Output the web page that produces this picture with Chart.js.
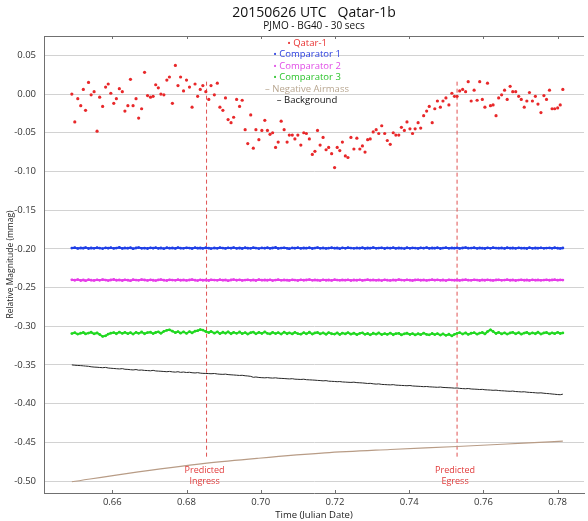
<!DOCTYPE html>
<html>
<head>
<meta charset="utf-8">
<script src="https://cdn.jsdelivr.net/npm/chart.js@4.4.0/dist/chart.umd.min.js"></script>
<style>
  html, body { margin: 0; padding: 0; background: #fff; }
</style>
</head>
<body>
<canvas id="lc" width="588" height="521"></canvas>
<script>
// ===== DATA =====
const TIMES = [
  0.6491,0.6499,0.6507,0.6515,0.6522,0.6528,0.6536,0.6543,0.6551,0.6559,
  0.6566,0.6574,0.6582,0.6589,0.6596,0.6604,0.6611,0.6619,0.6627,0.6634,
  0.6642,0.6649,0.6656,0.6664,0.6671,0.6679,0.6687,0.6695,0.6703,0.6710,
  0.6717,0.6724,0.6731,0.6739,0.6747,0.6754,0.6762,0.6770,0.6777,0.6784,
  0.6792,0.6800,0.6808,0.6815,0.6823,0.6830,0.6837,0.6844,0.6852,0.6860,
  0.6866,0.6875,0.6883,0.6890,0.6898,0.6905,0.6912,0.6920,0.6927,0.6935,
  0.6943,0.6950,0.6958,0.6965,0.6973,0.6980,0.6987,0.6995,0.7003,0.7011,
  0.7018,0.7025,0.7032,0.7040,0.7047,0.7055,0.7063,0.7071,0.7077,0.7085,
  0.7092,0.7100,0.7108,0.7116,0.7123,0.7131,0.7139,0.7146,0.7153,0.7160,
  0.7168,0.7176,0.7183,0.7191,0.7199,0.7206,0.7213,0.7220,0.7228,0.7235,
  0.7243,0.7251,0.7259,0.7267,0.7274,0.7281,0.7288,0.7295,0.7303,0.7311,
  0.7318,0.7326,0.7334,0.7341,0.7349,0.7357,0.7364,0.7372,0.7379,0.7387,
  0.7394,0.7402,0.7409,0.7416,0.7424,0.7431,0.7439,0.7447,0.7454,0.7462,
  0.7469,0.7476,0.7484,0.7491,0.7499,0.7507,0.7515,0.7522,0.7529,0.7536,
  0.7544,0.7552,0.7559,0.7567,0.7575,0.7583,0.7590,0.7597,0.7604,0.7611,
  0.7619,0.7626,0.7634,0.7641,0.7649,0.7657,0.7664,0.7672,0.7679,0.7687,
  0.7695,0.7702,0.7710,0.7717,0.7724,0.7732,0.7740,0.7747,0.7755,0.7763,
  0.7770,0.7778,0.7785,0.7792,0.7800,0.7807,0.7814
];
const QATAR = [
  0.000,-0.036,-0.006,-0.015,0.006,-0.021,0.015,-0.001,0.003,-0.048,
  -0.004,-0.016,0.009,0.013,0.001,-0.012,-0.006,0.007,0.003,-0.022,
  -0.015,0.019,-0.015,-0.006,-0.031,-0.019,0.028,-0.002,-0.004,-0.003,
  0.012,0.008,0.000,-0.001,0.018,0.022,-0.012,0.037,0.011,0.022,
  0.004,0.018,0.009,-0.017,0.013,-0.003,0.006,0.011,0.003,-0.007,
  0.011,-0.001,0.014,-0.017,-0.021,-0.005,-0.033,-0.037,-0.030,-0.007,
  -0.016,-0.008,-0.046,-0.064,-0.027,-0.070,-0.046,-0.059,-0.047,-0.034,
  -0.047,-0.052,-0.050,-0.069,-0.062,-0.035,-0.046,-0.062,-0.053,-0.053,
  -0.058,-0.053,-0.066,-0.050,-0.051,-0.058,-0.078,-0.074,-0.047,-0.066,
  -0.056,-0.072,-0.069,-0.077,-0.095,-0.069,-0.073,-0.062,-0.080,-0.082,
  -0.056,-0.071,-0.057,-0.071,-0.067,-0.075,-0.059,-0.058,-0.049,-0.046,
  -0.051,-0.041,-0.051,-0.060,-0.065,-0.050,-0.053,-0.053,-0.043,-0.047,
  -0.036,-0.045,-0.051,-0.045,-0.037,-0.044,-0.028,-0.022,-0.016,-0.037,
  -0.019,-0.009,-0.017,-0.009,-0.005,-0.014,0.001,-0.003,-0.003,0.004,
  0.006,0.003,0.016,-0.009,0.005,-0.008,0.016,-0.007,-0.017,0.014,
  -0.015,-0.014,-0.028,-0.005,-0.001,0.005,-0.007,0.010,0.003,0.003,
  -0.003,-0.007,-0.017,-0.009,0.002,-0.009,-0.003,-0.013,-0.024,-0.002,
  -0.007,0.005,-0.019,-0.019,-0.018,-0.014,0.006
];
const COMP1 = [
  -0.1990,-0.1985,-0.1995,-0.1988,-0.1992,-0.1984,-0.1996,-0.1989,-0.1993,-0.1986,
  -0.1991,-0.1997,-0.1987,-0.1992,-0.1985,-0.1994,-0.1990,-0.1983,-0.1995,-0.1988,
  -0.1992,-0.1986,-0.1998,-0.1989,-0.1984,-0.1993,-0.1990,-0.1996,-0.1987,-0.1991,
  -0.1985,-0.1994,-0.1989,-0.1997,-0.1986,-0.1992,-0.1988,-0.1995,-0.1984,-0.1991,
  -0.1993,-0.1987,-0.1990,-0.1996,-0.1985,-0.1992,-0.1989,-0.1994,-0.1986,-0.1991,
  -0.1997,-0.1988,-0.1993,-0.1985,-0.1990,-0.1995,-0.1987,-0.1992,-0.1984,-0.1994,
  -0.1989,-0.1996,-0.1986,-0.1991,-0.1993,-0.1985,-0.1990,-0.1997,-0.1988,-0.1992,
  -0.1986,-0.1994,-0.1989,-0.1983,-0.1995,-0.1990,-0.1987,-0.1993,-0.1998,-0.1988,
  -0.1991,-0.1985,-0.1994,-0.1989,-0.1992,-0.1986,-0.1996,-0.1990,-0.1984,-0.1993,
  -0.1988,-0.1995,-0.1991,-0.1986,-0.1992,-0.1989,-0.1997,-0.1987,-0.1993,-0.1985,
  -0.1990,-0.1994,-0.1988,-0.1992,-0.1986,-0.1995,-0.1989,-0.1991,-0.1984,-0.1993,
  -0.1990,-0.1987,-0.1996,-0.1988,-0.1992,-0.1985,-0.1994,-0.1989,-0.1991,-0.1997,
  -0.1986,-0.1993,-0.1988,-0.1990,-0.1995,-0.1987,-0.1992,-0.1984,-0.1994,-0.1989,
  -0.1991,-0.1986,-0.1996,-0.1990,-0.1985,-0.1993,-0.1988,-0.1992,-0.1987,-0.1995,
  -0.1989,-0.1984,-0.1992,-0.1990,-0.1986,-0.1994,-0.1988,-0.1991,-0.1996,-0.1987,
  -0.1993,-0.1985,-0.1990,-0.1992,-0.1988,-0.1995,-0.1986,-0.1991,-0.1989,-0.1994,
  -0.1987,-0.1992,-0.1990,-0.1996,-0.1985,-0.1993,-0.1989,-0.1991,-0.1987,-0.1994,
  -0.1990,-0.1988,-0.1993,-0.1986,-0.1992,-0.1995,-0.1989
];
const COMP2 = [
  -0.2400,-0.2406,-0.2397,-0.2409,-0.2402,-0.2411,-0.2399,-0.2405,-0.2408,-0.2401,
  -0.2407,-0.2398,-0.2404,-0.2410,-0.2403,-0.2396,-0.2406,-0.2402,-0.2409,-0.2400,
  -0.2405,-0.2411,-0.2399,-0.2404,-0.2407,-0.2398,-0.2403,-0.2408,-0.2401,-0.2406,
  -0.2410,-0.2402,-0.2397,-0.2405,-0.2409,-0.2400,-0.2404,-0.2407,-0.2399,-0.2406,
  -0.2402,-0.2408,-0.2403,-0.2398,-0.2405,-0.2410,-0.2401,-0.2406,-0.2403,-0.2409,
  -0.2400,-0.2404,-0.2407,-0.2399,-0.2405,-0.2402,-0.2411,-0.2403,-0.2397,-0.2406,
  -0.2401,-0.2408,-0.2404,-0.2400,-0.2407,-0.2402,-0.2409,-0.2398,-0.2405,-0.2403,
  -0.2406,-0.2400,-0.2410,-0.2404,-0.2399,-0.2407,-0.2402,-0.2405,-0.2408,-0.2401,
  -0.2404,-0.2409,-0.2400,-0.2406,-0.2403,-0.2398,-0.2407,-0.2402,-0.2405,-0.2410,
  -0.2401,-0.2406,-0.2403,-0.2408,-0.2399,-0.2404,-0.2407,-0.2402,-0.2405,-0.2400,
  -0.2409,-0.2403,-0.2406,-0.2401,-0.2408,-0.2404,-0.2399,-0.2405,-0.2402,-0.2407,
  -0.2403,-0.2410,-0.2400,-0.2405,-0.2408,-0.2402,-0.2406,-0.2398,-0.2404,-0.2407,
  -0.2401,-0.2405,-0.2409,-0.2403,-0.2400,-0.2406,-0.2402,-0.2408,-0.2404,-0.2399,
  -0.2405,-0.2401,-0.2407,-0.2403,-0.2410,-0.2400,-0.2404,-0.2406,-0.2402,-0.2408,
  -0.2403,-0.2399,-0.2405,-0.2407,-0.2401,-0.2404,-0.2409,-0.2402,-0.2406,-0.2400,
  -0.2405,-0.2408,-0.2403,-0.2401,-0.2407,-0.2404,-0.2399,-0.2406,-0.2402,-0.2409,
  -0.2404,-0.2400,-0.2406,-0.2403,-0.2408,-0.2401,-0.2405,-0.2402,-0.2407,-0.2404,
  -0.2400,-0.2406,-0.2403,-0.2399,-0.2405,-0.2402,-0.2404
];
const COMP3 = [
  -0.3095,-0.3084,-0.3102,-0.3090,-0.3081,-0.3100,-0.3088,-0.3078,-0.3098,-0.3087,
  -0.3107,-0.3132,-0.3124,-0.3102,-0.3090,-0.3082,-0.3097,-0.3077,-0.3093,-0.3080,
  -0.3096,-0.3083,-0.3101,-0.3079,-0.3092,-0.3075,-0.3097,-0.3082,-0.3077,-0.3095,
  -0.3081,-0.3072,-0.3091,-0.3066,-0.3053,-0.3046,-0.3064,-0.3083,-0.3070,-0.3090,
  -0.3074,-0.3093,-0.3070,-0.3086,-0.3064,-0.3058,-0.3044,-0.3050,-0.3068,-0.3082,
  -0.3068,-0.3090,-0.3072,-0.3096,-0.3078,-0.3091,-0.3072,-0.3097,-0.3080,-0.3092,
  -0.3075,-0.3096,-0.3082,-0.3101,-0.3084,-0.3076,-0.3098,-0.3080,-0.3094,-0.3074,
  -0.3093,-0.3100,-0.3079,-0.3095,-0.3082,-0.3102,-0.3077,-0.3097,-0.3085,-0.3099,
  -0.3080,-0.3096,-0.3103,-0.3083,-0.3098,-0.3078,-0.3101,-0.3087,-0.3081,-0.3100,
  -0.3086,-0.3104,-0.3082,-0.3097,-0.3102,-0.3085,-0.3107,-0.3089,-0.3100,-0.3083,
  -0.3103,-0.3090,-0.3109,-0.3092,-0.3085,-0.3105,-0.3094,-0.3111,-0.3091,-0.3103,
  -0.3087,-0.3108,-0.3095,-0.3106,-0.3089,-0.3110,-0.3096,-0.3092,-0.3112,-0.3098,
  -0.3091,-0.3107,-0.3095,-0.3113,-0.3097,-0.3109,-0.3090,-0.3106,-0.3111,-0.3094,
  -0.3108,-0.3096,-0.3115,-0.3099,-0.3118,-0.3104,-0.3125,-0.3105,-0.3092,-0.3082,
  -0.3101,-0.3087,-0.3106,-0.3091,-0.3084,-0.3103,-0.3089,-0.3081,-0.3100,-0.3070,
  -0.3046,-0.3068,-0.3094,-0.3080,-0.3099,-0.3085,-0.3102,-0.3087,-0.3079,-0.3098,
  -0.3083,-0.3103,-0.3088,-0.3080,-0.3100,-0.3086,-0.3097,-0.3078,-0.3101,-0.3087,
  -0.3081,-0.3099,-0.3085,-0.3096,-0.3079,-0.3094,-0.3087
];
const BACKGROUND = [
  -0.3500,-0.3504,-0.3507,-0.3509,-0.3512,-0.3515,-0.3518,-0.3524,-0.3528,-0.3530,
  -0.3533,-0.3536,-0.3532,-0.3540,-0.3543,-0.3546,-0.3549,-0.3552,-0.3548,-0.3556,
  -0.3558,-0.3562,-0.3565,-0.3560,-0.3568,-0.3566,-0.3571,-0.3573,-0.3576,-0.3570,
  -0.3578,-0.3580,-0.3582,-0.3585,-0.3588,-0.3584,-0.3590,-0.3593,-0.3588,-0.3596,
  -0.3592,-0.3598,-0.3595,-0.3601,-0.3604,-0.3600,-0.3606,-0.3609,-0.3610,-0.3612,
  -0.3614,-0.3611,-0.3617,-0.3620,-0.3622,-0.3619,-0.3625,-0.3628,-0.3630,-0.3633,
  -0.3636,-0.3634,-0.3640,-0.3643,-0.3648,-0.3660,-0.3656,-0.3662,-0.3665,-0.3667,
  -0.3664,-0.3668,-0.3670,-0.3667,-0.3672,-0.3674,-0.3676,-0.3679,-0.3681,-0.3678,
  -0.3684,-0.3686,-0.3688,-0.3685,-0.3691,-0.3693,-0.3695,-0.3697,-0.3700,-0.3702,
  -0.3706,-0.3703,-0.3710,-0.3712,-0.3714,-0.3717,-0.3715,-0.3720,-0.3722,-0.3724,
  -0.3726,-0.3723,-0.3729,-0.3731,-0.3733,-0.3736,-0.3740,-0.3738,-0.3744,-0.3748,
  -0.3745,-0.3752,-0.3754,-0.3756,-0.3758,-0.3755,-0.3761,-0.3763,-0.3765,-0.3767,
  -0.3769,-0.3766,-0.3772,-0.3774,-0.3776,-0.3778,-0.3781,-0.3779,-0.3783,-0.3785,
  -0.3787,-0.3789,-0.3786,-0.3791,-0.3793,-0.3795,-0.3797,-0.3800,-0.3798,-0.3803,
  -0.3806,-0.3808,-0.3805,-0.3811,-0.3813,-0.3815,-0.3818,-0.3816,-0.3821,-0.3823,
  -0.3825,-0.3828,-0.3826,-0.3831,-0.3834,-0.3836,-0.3839,-0.3841,-0.3838,-0.3844,
  -0.3846,-0.3849,-0.3847,-0.3852,-0.3855,-0.3857,-0.3860,-0.3863,-0.3861,-0.3866,
  -0.3869,-0.3872,-0.3876,-0.3879,-0.3883,-0.3885,-0.3878
];
const AIRMASS_TIMES = [0.6491, 0.6638, 0.6855, 0.6994, 0.7173, 0.7349, 0.7529, 0.7708, 0.7814];
const AIRMASS = [-0.5010, -0.4904, -0.4770, -0.4706, -0.4637, -0.4593, -0.4554, -0.4511, -0.4485];

const EVENT_NAMES = ['Ingress', 'Egress'];
const EVENT_TIMES = [0.6854, 0.7529];
const EVENT_SPAN = [0.016, -0.472];   // top / bottom of the dashed markers (mag)

const X_TICKS = [0.66, 0.68, 0.70, 0.72, 0.74, 0.76, 0.78];
const Y_TICKS = [0.05, 0.00, -0.05, -0.10, -0.15, -0.20, -0.25, -0.30, -0.35, -0.40, -0.45, -0.50];

const FONT = '"Open Sans", "DejaVu Sans", sans-serif';
Chart.defaults.font.family = FONT;

const pts = (xs, ys) => xs.map((x, i) => ({ x, y: ys[i] }));

// ===== PLUGINS =====
// top border + inward tick marks
const framePlugin = {
  id: 'frame',
  afterDatasetsDraw(chart) {
    const { ctx, chartArea: a, scales: { x } } = chart;
    ctx.save();
    ctx.strokeStyle = '#707070';
    ctx.lineWidth = 1;
    ctx.beginPath();
    ctx.moveTo(a.left, a.top + 0.5); ctx.lineTo(a.right, a.top + 0.5);
    X_TICKS.forEach(v => {
      const px = Math.round(x.getPixelForValue(v)) + 0.5;
      ctx.moveTo(px, a.top); ctx.lineTo(px, a.top + 3);
      ctx.moveTo(px, a.bottom); ctx.lineTo(px, a.bottom - 3);
    });
    ctx.stroke();
    ctx.restore();
  }
};

// "Predicted / Ingress" labels under the dashed markers
const eventLabels = {
  id: 'eventLabels',
  afterDatasetsDraw(chart) {
    const { ctx, scales: { x, y } } = chart;
    const yb = y.getPixelForValue(EVENT_SPAN[1]);
    ctx.save();
    ctx.fillStyle = '#e23b3b';
    ctx.font = '9px ' + FONT;
    ctx.textAlign = 'center';
    ctx.textBaseline = 'middle';
    EVENT_TIMES.forEach((t, i) => {
      const px = x.getPixelForValue(t) - 2;
      ctx.fillText('Predicted', px, yb + 11);
      ctx.fillText(EVENT_NAMES[i], px, yb + 22);
    });
    ctx.restore();
  }
};

// legend stacked in the plot, centred, coloured text
const innerLegend = {
  id: 'innerLegend',
  afterDatasetsDraw(chart) {
    const { ctx, chartArea: a } = chart;
    const cx = (a.left + a.right) / 2 - 7;
    let yy = a.top + 7;
    ctx.save();
    ctx.font = '9.5px ' + FONT;
    ctx.textBaseline = 'middle';
    ctx.textAlign = 'left';
    chart.data.datasets.filter(d => d.label).forEach(d => {
      const txt = (d.marker === 'dot' ? '\u2022 ' : '\u2013 ') + d.label;
      const w = ctx.measureText(txt).width;
      ctx.fillStyle = d.legendColor;
      ctx.fillText(txt, cx - w / 2, yy);
      yy += 11.5;
    });
    ctx.restore();
  }
};

const eventLine = t => ({
  data: pts([t, t], EVENT_SPAN),
  showLine: true,
  borderColor: '#e05252',
  borderWidth: 1,
  borderDash: [4, 3],
  pointRadius: 0
});

const compSeries = (label, legendColor, color, values) => ({
  label, legendColor, marker: 'dot', data: pts(TIMES, values), showLine: true,
  borderColor: color, borderWidth: 2,
  pointRadius: 1.4, pointBackgroundColor: color, pointBorderWidth: 0
});

new Chart(document.getElementById('lc'), {
  type: 'scatter',
  data: {
    datasets: [
      { label: 'Qatar-1', legendColor: '#e83030', marker: 'dot', data: pts(TIMES, QATAR), showLine: false,
        pointRadius: 1.6, pointBackgroundColor: '#e8282a', pointBorderWidth: 0 },
      compSeries('Comparator 1', '#2a3ee0', '#1f3fe6', COMP1),
      compSeries('Comparator 2', '#e04ce6', '#e63ce8', COMP2),
      compSeries('Comparator 3', '#2ec42e', '#22d822', COMP3),
      { label: 'Negative Airmass', legendColor: '#b8a690', data: pts(AIRMASS_TIMES, AIRMASS), showLine: true,
        cubicInterpolationMode: 'monotone', pointRadius: 0, borderColor: '#b89c86', borderWidth: 1.2 },
      { label: 'Background', legendColor: '#111', data: pts(TIMES, BACKGROUND), showLine: true,
        pointRadius: 0, borderColor: '#262626', borderWidth: 1 },
      eventLine(EVENT_TIMES[0]),
      eventLine(EVENT_TIMES[1])
    ]
  },
  options: {
    responsive: false,
    animation: false,
    devicePixelRatio: 1,
    layout: { padding: 0 },
    plugins: {
      legend: { display: false },
      tooltip: { enabled: false },
      title: {
        display: true, text: '20150626 UTC   Qatar-1b', fullSize: false, color: '#111',
        font: { size: 14, weight: 'normal', lineHeight: 1 }, padding: { top: 6, bottom: 0 }
      },
      subtitle: {
        display: true, text: 'PJMO - BG40 - 30 secs', fullSize: false, color: '#111',
        font: { size: 10, lineHeight: 1 }, padding: { top: 1, bottom: 5 }
      }
    },
    scales: {
      x: {
        type: 'linear', min: 0.6416, max: 0.7871,
        afterBuildTicks: s => { s.ticks = X_TICKS.map(v => ({ value: v })) },
        afterFit: s => { s.height = 28 },
        ticks: { color: '#333', font: { size: 9.5 }, padding: 4, maxRotation: 0, autoSkip: false,
                 callback: v => v.toFixed(2) },
        grid: { display: false, drawTicks: false },
        border: { display: true, color: '#707070', width: 1 },
        title: { display: true, text: 'Time (Julian Date)', color: '#222', font: { size: 9.5 },
                 padding: { top: 0, bottom: 0 } }
      },
      y: {
        type: 'linear', min: -0.5155, max: 0.075,
        afterBuildTicks: s => { s.ticks = Y_TICKS.map(v => ({ value: v })) },
        afterFit: s => { s.width = 44 },
        ticks: { color: '#333', font: { size: 9.5 }, padding: 8, callback: v => v.toFixed(2) },
        grid: { color: '#d2d2d2', lineWidth: 1, drawTicks: false },
        border: { display: true, color: '#707070', width: 1 },
        title: { display: true, text: 'Relative Magnitude (mmag)', color: '#222', font: { size: 8.5 },
                 padding: { top: 5, bottom: 0 } }
      }
    }
  },
  plugins: [framePlugin, eventLabels, innerLegend]
});
</script>
</body>
</html>
